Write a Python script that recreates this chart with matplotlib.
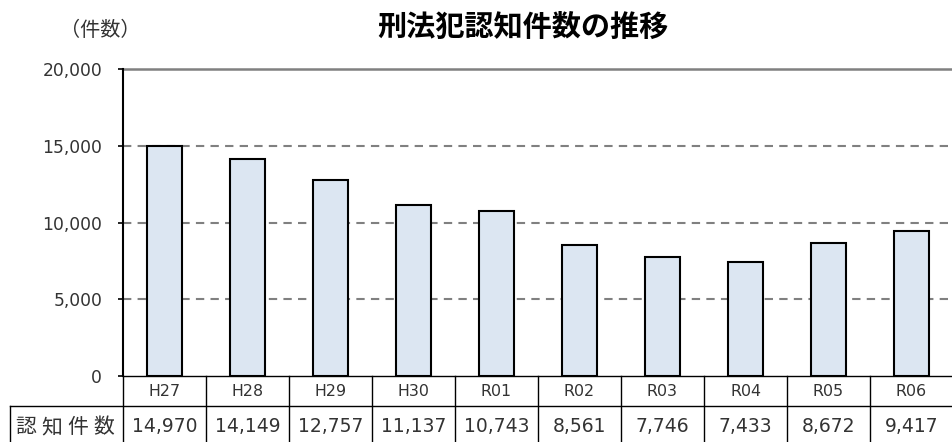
import matplotlib
matplotlib.use("Agg")
import matplotlib.pyplot as plt
from matplotlib.lines import Line2D

plt.rcParams['font.family'] = ['Noto Sans CJK JP', 'DejaVu Sans']

categories = ["H27", "H28", "H29", "H30", "R01", "R02", "R03", "R04", "R05", "R06"]
values = [14970, 14149, 12757, 11137, 10743, 8561, 7746, 7433, 8672, 9417]
yticks = [0, 5000, 10000, 15000, 20000]
row_label = "認知件数"
title = "刑法犯認知件数の推移"
unit = "（件数）"

W, H = 953, 442
fig = plt.figure(figsize=(W / 100, H / 100), dpi=100)
L, R, T, B = 123, 953, 69, 376
ax = fig.add_axes([L / W, (H - B) / H, (R - L) / W, (B - T) / H])

num_font = "DejaVu Sans"
txt_col = "#333333"

x = list(range(len(categories)))
ax.bar(x, values, width=0.41, color="#DCE6F2", edgecolor="black", linewidth=1.5, zorder=3)
ax.set_xlim(-0.5, len(categories) - 0.5)
ax.set_ylim(0, 20000)
ax.set_yticks(yticks)
ax.set_yticklabels([f"{v:,}" for v in yticks], fontsize=12.3, color=txt_col, family=num_font)
ax.tick_params(axis="y", length=3.6, width=1.2, pad=11.5, direction="out")
ax.set_xticks([])
for v in yticks[1:-1]:
    ax.axhline(v, color="#808080", linestyle=(0, (4, 3)), linewidth=1.5, zorder=1)
ax.axhline(20000, color="#808080", linewidth=1.8, zorder=1, clip_on=False)
for s in ["right", "top", "bottom"]:
    ax.spines[s].set_visible(False)
ax.spines["left"].set_linewidth(1.5)
ax.spines["left"].set_color("black")

# table below axes
px = 1.0 / (B - T)  # axes fraction per pixel
r1 = -30 * px
r2 = -72 * px
tr = ax.get_xaxis_transform()
col_w = (R - L) / len(categories)
xl = -0.5 - (L - 10) / col_w
lw = 1.0
n = len(categories)
ax.add_line(Line2D([-0.5, n - 0.5], [0, 0], transform=tr, color="black", lw=lw, clip_on=False))
ax.add_line(Line2D([xl, n - 0.5], [r1, r1], transform=tr, color="black", lw=lw, clip_on=False))
ax.add_line(Line2D([xl, n - 0.5], [r2, r2], transform=tr, color="black", lw=lw, clip_on=False))
ax.add_line(Line2D([xl, xl], [r1, r2], transform=tr, color="black", lw=lw, clip_on=False))
for i in range(n):
    ax.add_line(Line2D([i - 0.5, i - 0.5], [0, r2], transform=tr, color="black", lw=lw, clip_on=False))
for i, (c, v) in enumerate(zip(categories, values)):
    ax.text(i, r1 / 2, c, transform=tr, ha="center", va="center", fontsize=11.4,
            color=txt_col, family=num_font)
    ax.text(i, -51 * px, f"{v:,}", transform=tr, ha="center", va="center", fontsize=13.5,
            color=txt_col, family=num_font)

# row label, characters spread across the label cell
label_x_px = [26, 52, 78, 104]
for ch, xp in zip(row_label, label_x_px):
    fig.text(xp / W, 1 - 427 / H, ch, ha="center", va="center", fontsize=15, color=txt_col)

fig.text(523 / W, 1 - 27 / H, title, ha="center", va="center", fontsize=21, fontweight="bold")
fig.text(100 / W, 1 - 31 / H, unit, ha="center", va="center", fontsize=14.5, color=txt_col)

fig.savefig("out.png", dpi=100)
